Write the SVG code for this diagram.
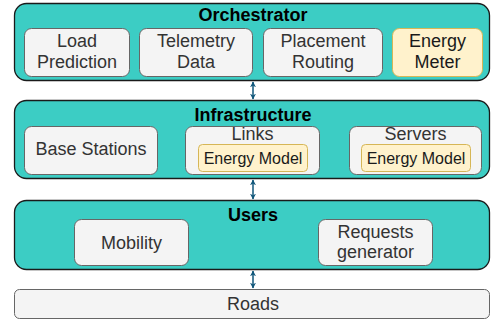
<svg xmlns="http://www.w3.org/2000/svg" width="491" height="327" viewBox="0 0 491 327">
<style>
.layer{fill:#3ccdc4;stroke:#1a1a1a;stroke-width:1.3}
.box{fill:#f4f4f4;stroke:#666;stroke-width:1}
.em{fill:#fff2cc;stroke:#d6b656;stroke-width:1}
.title{font-family:"Liberation Sans",Arial,sans-serif;font-weight:bold;font-size:18px;fill:#000;text-anchor:middle}
.t{font-family:"Liberation Sans",Arial,sans-serif;font-size:18px;fill:#333;text-anchor:middle}
.te{font-family:"Liberation Sans",Arial,sans-serif;font-size:18px;fill:#1a1a1a;text-anchor:middle}
.ts{font-family:"Liberation Sans",Arial,sans-serif;font-size:16px;fill:#1a1a1a;text-anchor:middle}
.conn{stroke:#10567a;stroke-width:1.5;fill:none;marker-start:url(#ah);marker-end:url(#ah)}
</style>
<defs>
<marker id="ah" viewBox="0 0 10 10" refX="9" refY="5" markerWidth="6" markerHeight="6" orient="auto-start-reverse" markerUnits="userSpaceOnUse">
<path d="M0,0 L10,5 L0,10 L3,5 Z" fill="#10567a"/>
</marker>
</defs>
<g id="orchestrator">
<rect class="layer" x="14.5" y="3.5" width="475" height="77" rx="12"/>
<text class="title" x="253" y="21">Orchestrator</text>
</g>
<g id="load-prediction">
<rect class="box" x="24.5" y="28.5" width="105" height="48" rx="7"/>
<text class="t" x="77" y="47">Load</text>
<text class="t" x="77" y="68">Prediction</text>
</g>
<g id="telemetry-data">
<rect class="box" x="139.5" y="28.5" width="113" height="48" rx="7"/>
<text class="t" x="196" y="47">Telemetry</text>
<text class="t" x="196" y="68">Data</text>
</g>
<g id="placement-routing">
<rect class="box" x="263.5" y="28.5" width="119" height="48" rx="7"/>
<text class="t" x="323" y="47">Placement</text>
<text class="t" x="323" y="68">Routing</text>
</g>
<g id="energy-meter">
<rect class="em" x="392.5" y="28.5" width="90" height="48" rx="7"/>
<text class="te" x="437.5" y="47">Energy</text>
<text class="te" x="437.5" y="68">Meter</text>
</g>
<g id="infrastructure">
<rect class="layer" x="14.5" y="100.5" width="475" height="78" rx="12"/>
<text class="title" x="253" y="121">Infrastructure</text>
</g>
<g id="base-stations">
<rect class="box" x="24.5" y="126.5" width="133" height="48" rx="7"/>
<text class="t" x="91" y="155">Base Stations</text>
</g>
<g id="links">
<rect class="box" x="185.5" y="126.5" width="134" height="48" rx="7"/>
<text class="t" x="252.5" y="140">Links</text>
</g>
<g id="links-energy-model">
<rect class="em" x="198.5" y="144.5" width="109" height="27" rx="4"/>
<text class="ts" x="253" y="164">Energy Model</text>
</g>
<g id="servers">
<rect class="box" x="349.5" y="126.5" width="132" height="48" rx="7"/>
<text class="t" x="415.5" y="140">Servers</text>
</g>
<g id="servers-energy-model">
<rect class="em" x="361.5" y="144.5" width="109" height="27" rx="4"/>
<text class="ts" x="416" y="164">Energy Model</text>
</g>
<g id="users">
<rect class="layer" x="14.5" y="200.5" width="475" height="69" rx="12"/>
<text class="title" x="253" y="221">Users</text>
</g>
<g id="mobility">
<rect class="box" x="74.5" y="219.5" width="114" height="46" rx="7"/>
<text class="t" x="131.5" y="249">Mobility</text>
</g>
<g id="requests-generator">
<rect class="box" x="318.5" y="219.5" width="114" height="46" rx="7"/>
<text class="t" x="375.5" y="238">Requests</text>
<text class="t" x="375.5" y="258">generator</text>
</g>
<g id="roads">
<rect class="box" x="14.5" y="289.5" width="475" height="29" rx="5"/>
<text class="t" x="253" y="310">Roads</text>
</g>
<g id="connectors">
<line class="conn" x1="253" y1="82" x2="253" y2="99"/>
<line class="conn" x1="253" y1="180" x2="253" y2="199"/>
<line class="conn" x1="253" y1="271" x2="253" y2="288"/>
</g>
</svg>
